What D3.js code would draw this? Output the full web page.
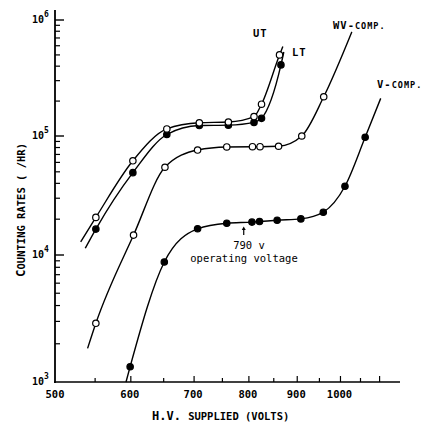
<!DOCTYPE html>
<html><head><meta charset="utf-8">
<script src="https://cdn.jsdelivr.net/npm/d3@7"></script>
<style>body{margin:0;background:#fff}svg{display:block}</style>
</head><body>
<script>
// ---- data (voltage in volts, counting rate per hour) ----
const utVolts = [551, 603, 655, 709, 761, 810, 825, 862];
const utRates = [2.07e4, 6.19e4, 1.15e5, 1.30e5, 1.32e5, 1.47e5, 1.88e5, 5.0e5];
const utEnds  = [[531, 1.29e4], [869, 5.9e5]];

const ltVolts = [551, 603, 655, 709, 761, 810, 825, 865];
const ltRates = [1.65e4, 4.92e4, 1.03e5, 1.23e5, 1.24e5, 1.31e5, 1.42e5, 4.1e5];
const ltEnds  = [[537, 1.14e4], [871, 5.3e5]];

const wvVolts = [551, 604, 652, 706, 758, 807, 822, 860, 910, 960];
const wvRates = [2.9e3, 1.47e4, 5.46e4, 7.62e4, 8.09e4, 8.13e4, 8.13e4, 8.2e4, 1.0e5, 2.18e5];
const wvEnds  = [[540, 1.84e3], [1028, 7.9e5]];

const vVolts = [599, 651, 706, 758, 806, 821, 857, 908, 959, 1011, 1062];
const vRates = [1.32e3, 8.81e3, 1.66e4, 1.85e4, 1.89e4, 1.91e4, 1.96e4, 2.01e4, 2.29e4, 3.78e4, 9.75e4];
const vEnds  = [[593, 1.0e3], [1103, 2.11e5]];

const xTickLabels = [500, 600, 700, 800, 900, 1000];
const xMinorTicks = [550, 600, 650, 700, 750, 800, 850, 900, 950, 1000, 1050, 1100];
const yMajorTicks = [1e3, 1e4, 1e5, 1e6];
const yExponents  = ["3", "4", "5", "6"];
const operatingVoltage = 790;

// ---- scales ----
const x = d3.scaleLog().domain([500, 1150]).range([56, 56 + 945 * Math.log10(2.3)]);
const y = d3.scaleLog().domain([1e3, 1e4, 1e5, 1e6]).range([382, 255, 136, 20]);

const svg = d3.select("body").append("svg").attr("width", 423).attr("height", 424);
const mono = "'DejaVu Sans Mono', 'Liberation Mono', monospace";

// axes
svg.append("line").attr("x1", 55).attr("x2", 55).attr("y1", 10).attr("y2", 383)
  .attr("stroke", "#000").attr("stroke-width", 1.8);
svg.append("line").attr("x1", 54).attr("x2", 400).attr("y1", 382).attr("y2", 382)
  .attr("stroke", "#000").attr("stroke-width", 1.5);

// y ticks
const yMinor = [];
[1e3, 1e4, 1e5].forEach(d => { for (let k = 2; k <= 9; k++) yMinor.push(d * k); });
svg.selectAll(".ymin").data(yMinor).join("line")
  .attr("x1", 55).attr("x2", 60).attr("y1", d => y(d)).attr("y2", d => y(d))
  .attr("stroke", "#000").attr("stroke-width", 1.2);
svg.selectAll(".ymaj").data(yMajorTicks.slice(1)).join("line")
  .attr("x1", 55).attr("x2", 64).attr("y1", d => y(d)).attr("y2", d => y(d))
  .attr("stroke", "#000").attr("stroke-width", 1.4);
const yl = svg.selectAll(".ylab").data(yMajorTicks).join("text")
  .attr("x", 32).attr("y", d => y(d) + 3)
  .attr("font-family", mono).attr("font-size", 10).attr("font-weight", "bold");
yl.append("tspan").text("10");
yl.append("tspan").attr("dy", -6).attr("font-size", 8).text((d, i) => yExponents[i]);

// x ticks
svg.selectAll(".xt").data(xMinorTicks).join("line")
  .attr("x1", d => x(d)).attr("x2", d => x(d)).attr("y1", 382)
  .attr("y2", d => d % 100 === 0 ? 376 : 378)
  .attr("stroke", "#000").attr("stroke-width", 1.2);
svg.selectAll(".xl").data(xTickLabels).join("text")
  .attr("x", d => x(d) - 1).attr("y", 398).attr("text-anchor", "middle")
  .attr("font-family", mono).attr("font-size", 10.5).attr("font-weight", "bold")
  .text(d => d);

// axis titles
const xt = svg.append("text").attr("x", 152).attr("y", 420)
  .attr("font-family", mono).attr("font-weight", "bold");
xt.append("tspan").attr("font-size", 12).text("H.V. ");
xt.append("tspan").attr("font-size", 10.5).text("SUPPLIED (VOLTS)");

const yt = svg.append("text").attr("transform", "translate(25,277) rotate(-90)")
  .attr("font-family", mono).attr("font-weight", "bold");
yt.append("tspan").attr("font-size", 12.5).text("C");
yt.append("tspan").attr("font-size", 10.5).text("OUNTING RATES ( /HR)");

// curves
const line = d3.line().x(d => x(d[0])).y(d => y(d[1])).curve(d3.curveMonotoneX);
function series(volts, rates, ends, filled) {
  const pts = volts.map((v, i) => [v, rates[i]]);
  const knots = [ends[0], ...pts, ends[1]];
  svg.append("path").attr("d", line(knots)).attr("fill", "none")
    .attr("stroke", "#000").attr("stroke-width", 1.4);
  svg.append("g").selectAll("circle").data(pts).join("circle")
    .attr("cx", d => x(d[0])).attr("cy", d => y(d[1])).attr("r", 3.2)
    .attr("fill", filled ? "#000" : "#fff").attr("stroke", "#000").attr("stroke-width", 1.2);
}
series(wvVolts, wvRates, wvEnds, false);
series(vVolts, vRates, vEnds, true);
series(ltVolts, ltRates, ltEnds, true);
series(utVolts, utRates, utEnds, false);

// curve labels
function label(xp, yp, big, small) {
  const t = svg.append("text").attr("x", xp).attr("y", yp)
    .attr("font-family", mono).attr("font-weight", "bold").attr("letter-spacing", 1);
  t.append("tspan").attr("font-size", 10.5).text(big);
  if (small) t.append("tspan").attr("font-size", 8.5).text(small);
}
label(253, 37, "UT");
label(292, 56, "LT");
label(333, 29, "WV-", "COMP.");
label(377, 88, "V-", "COMP.");

// operating voltage annotation
const ax = x(operatingVoltage);
svg.append("line").attr("x1", ax).attr("x2", ax).attr("y1", 235).attr("y2", 229)
  .attr("stroke", "#000").attr("stroke-width", 1.2);
svg.append("path").attr("d", `M${ax - 2},${230} L${ax + 2},${230} L${ax},${226.5} Z`).attr("fill", "#000");
svg.append("text").attr("x", 249).attr("y", 248.5).attr("text-anchor", "middle")
  .attr("font-family", mono).attr("font-size", 10.5).text(operatingVoltage + " v");
svg.append("text").attr("x", 244).attr("y", 261.5).attr("text-anchor", "middle")
  .attr("font-family", mono).attr("font-size", 10.5).text("operating voltage");
</script>
</body></html>
